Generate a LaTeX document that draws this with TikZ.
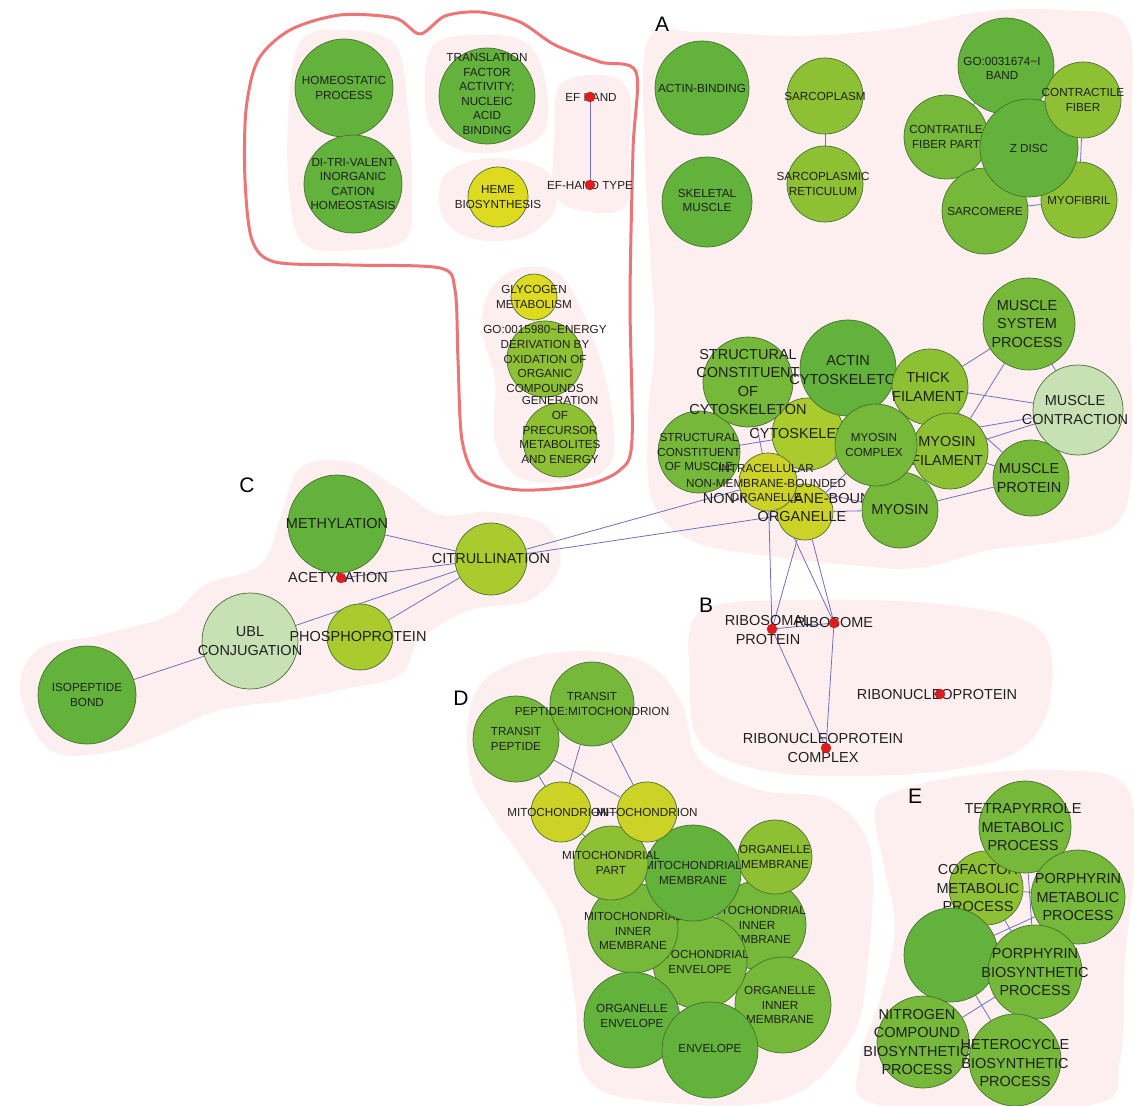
\documentclass[tikz,border=0pt]{standalone}
\usepackage{fontspec}
\setmainfont{Liberation Sans}
\usetikzlibrary{graphs}
\definecolor{gA}{RGB}{98,178,60}
\definecolor{gB}{RGB}{118,184,58}
\definecolor{gC}{RGB}{142,192,52}
\definecolor{gD}{RGB}{170,203,45}
\definecolor{gE}{RGB}{204,210,38}
\definecolor{gF}{RGB}{222,218,32}
\definecolor{gL}{RGB}{200,225,180}
\definecolor{ring}{RGB}{72,112,48}
\definecolor{ink}{RGB}{32,32,32}
\definecolor{linkblue}{RGB}{112,112,192}
\definecolor{dotred}{RGB}{222,30,30}
\definecolor{haze}{RGB}{253,239,239}
\definecolor{fence}{RGB}{236,118,118}
\pgfdeclarelayer{blobs}
\pgfdeclarelayer{links}
\pgfsetlayers{blobs,links,main}
\tikzset{
    term/.style 2 args ={
        shape=circle,
        draw=ring,
        line width=0.7pt,
        fill=#2,
        inner sep=0pt,
        minimum size=2*#1
    },
    hub/.style ={
        shape=circle,
        fill=dotred,
        draw=dotred!80!black,
        line width=0.3pt,
        inner sep=0pt,
        minimum size=10
    },
    word/.style ={
        font=\fontsize{11.7}{14.6}\selectfont,
        align=center,
        text=ink,
        inner sep=0pt
    },
    bigword/.style ={
        font=\fontsize{14.5}{18.4}\selectfont,
        align=center,
        text=ink,
        inner sep=0pt
    },
    letter/.style ={
        font=\fontsize{21}{21}\selectfont,
        text=black,
        inner sep=0pt
    },
    link/.style ={
        draw=linkblue,
        line width=0.8pt
    }
}

\begin{document}
\begin{tikzpicture}[x=1pt,y=-1pt]
    \useasboundingbox (0,0) rectangle (1134,1105);
    \begin{pgfonlayer}{blobs}
        \fill[white] (0,0) rectangle (1134,1105);
        \fill[haze] plot[smooth cycle, tension=0.6] coordinates {(648,40) (700,32) (800,36) (900,28) (980,12) (1060,10) (1125,25) (1132,120) (1130,300) (1132,450) (1120,520) (1070,540) (990,550) (920,568) (850,565) (760,555) (690,540) (652,500) (648,420) (655,340) (650,250) (645,150)};
        \fill[haze] plot[smooth cycle, tension=0.6] coordinates {(700,612) (800,600) (950,605) (1040,630) (1050,700) (1020,750) (950,770) (850,776) (760,770) (700,742) (690,680)};
        \fill[haze] plot[smooth cycle, tension=0.6] coordinates {(20,690) (40,648) (100,635) (170,615) (205,585) (260,565) (280,520) (300,468) (350,462) (400,490) (440,515) (490,512) (545,525) (560,565) (530,600) (470,610) (420,640) (400,675) (340,690) (290,700) (220,710) (160,735) (110,752) (50,750)};
        \fill[haze] plot[smooth cycle, tension=0.6] coordinates {(468,720) (490,675) (560,652) (640,660) (680,700) (700,760) (760,790) (830,800) (870,850) (868,960) (850,1040) (780,1100) (640,1100) (585,1075) (575,1000) (560,920) (530,870) (495,820) (472,780)};
        \fill[haze] plot[smooth cycle, tension=0.6] coordinates {(875,810) (900,790) (970,775) (1060,770) (1125,785) (1134,860) (1125,960) (1120,1060) (1090,1105) (880,1105) (860,1060) (880,1000) (895,930) (885,870)};
        \fill[haze] plot[smooth cycle, tension=0.6] coordinates {(300,42) (345,30) (395,45) (408,110) (412,190) (405,240) (355,250) (305,245) (290,200) (288,120)};
        \fill[haze] plot[smooth cycle, tension=0.6] coordinates {(430,50) (470,35) (525,42) (545,80) (545,130) (510,150) (460,150) (428,120)};
        \fill[haze] plot[smooth cycle, tension=0.6] coordinates {(445,175) (490,158) (545,170) (555,210) (520,238) (470,238) (442,215)};
        \fill[haze] plot[smooth cycle, tension=0.6] coordinates {(560,85) (600,75) (628,90) (630,150) (626,205) (590,212) (555,195) (555,130)};
        \fill[haze] plot[smooth cycle, tension=0.6] coordinates {(490,290) (520,268) (560,275) (590,330) (610,400) (612,460) (580,480) (520,478) (495,440) (495,380) (482,330)};
        \draw[fence, line width=3pt] plot[smooth cycle, tension=0.5] coordinates {(246,110) (258,60) (290,30) (340,15) (395,18) (420,34) (445,16) (480,12) (520,22) (555,45) (600,62) (636,72) (633,150) (630,300) (632,440) (620,470) (585,485) (520,490) (478,478) (462,440) (458,360) (455,290) (440,268) (350,265) (275,262) (252,240) (245,180)};
    \end{pgfonlayer}

    \node[letter] (labA) at (662,24) {A};
    \node[letter] (labB) at (706,605) {B};
    \node[letter] (labC) at (247,485) {C};
    \node[letter] (labD) at (461,698) {D};
    \node[letter] (labE) at (915,796) {E};

    \node[term={49}{gA}, label={[word]center:{HOMEOSTATIC\\PROCESS}}] (homeo) at (344,88) {};
    \node[term={49}{gA}, label={[word]center:{DI-TRI-VALENT\\INORGANIC\\CATION\\HOMEOSTASIS}}] (ditri) at (353,184) {};
    \node[term={48}{gA}, label={[word,yshift=2]center:{TRANSLATION\\FACTOR\\ACTIVITY;\\NUCLEIC\\ACID\\BINDING}}] (transl) at (487,96) {};
    \node[term={30}{gF}, label={[word]center:{HEME\\BIOSYNTHESIS}}] (heme) at (498,197) {};
    \node[word] (efhandtxt) at (591,97) {EF HAND};
    \node[hub] (efhand) at (590,97) {};
    \node[word] (eftypetxt) at (590,185) {EF-HAND TYPE};
    \node[hub] (eftype) at (590,185) {};
    \node[term={23}{gF}, label={[word]center:{GLYCOGEN\\METABOLISM}}] (glyco) at (534,297) {};
    \node[term={38}{gC}, label={[word]center:{GO:0015980\textasciitilde ENERGY\\DERIVATION BY\\OXIDATION OF\\ORGANIC\\COMPOUNDS}}] (energy) at (545,359) {};
    \node[term={37}{gC}, label={[word,yshift=10]center:{GENERATION\\OF\\PRECURSOR\\METABOLITES\\AND ENERGY}}] (genprec) at (560,440) {};

    \node[term={47}{gA}, label={[word]center:{ACTIN-BINDING}}] (actinb) at (702,88) {};
    \node[term={45}{gA}, label={[word,yshift=1.5]center:{SKELETAL\\MUSCLE}}] (skeletal) at (707,202) {};
    \node[term={38}{gC}, label={[word]center:{SARCOPLASM}}] (sarcopl) at (825,96) {};
    \node[term={38}{gC}, label={[word,xshift=-2]center:{SARCOPLASMIC\\RETICULUM}}] (sarcoret) at (825,184) {};
    \node[term={48}{gA}, label={[word,xshift=-4,yshift=-2.5]center:{GO:0031674\textasciitilde I\\BAND}}] (iband) at (1006,66) {};
    \node[term={42}{gB}, label={[word]center:{CONTRATILE\\FIBER PART}}] (fpart) at (946,137) {};
    \node[term={43}{gB}, label={[word]center:{SARCOMERE}}] (sarcomere) at (985,211) {};
    \node[term={38}{gC}, label={[word]center:{MYOFIBRIL}}] (myofib) at (1079,200) {};
    \node[term={49}{gA}, label={[word]center:{Z DISC}}] (zdisc) at (1029,148) {};
    \node[term={38}{gC}, label={[word]center:{CONTRACTILE\\FIBER}}] (cfiber) at (1083,100) {};

    \node[term={28}{gE}, label={[bigword,xshift=-3,yshift=4.5]center:{NON-MEMBRANE-BOUNDED\\ORGANELLE}}] (nonmem) at (805,512) {};
    \node[term={41}{gB}, label={[word]center:{STRUCTURAL\\CONSTITUENT\\OF MUSCLE}}] (scm) at (699,452) {};
    \node[term={36}{gD}, label={[bigword]center:{CYTOSKELETON}}] (cytosk) at (808,434) {};
    \node[term={29}{gE}, label={[word,xshift=-2,yshift=-1]center:{INTRACELLULAR\\NON-MEMBRANE-BOUNDED\\ORGANELLE}}] (intra) at (768,482) {};
    \node[term={38}{gB}, label={[bigword]center:{MYOSIN}}] (myosin) at (900,510) {};
    \node[term={45}{gB}, label={[bigword]center:{STRUCTURAL\\CONSTITUENT\\OF\\CYTOSKELETON}}] (scc) at (748,382) {};
    \node[term={48}{gA}, label={[bigword,yshift=-2]center:{ACTIN\\CYTOSKELETON}}] (actin) at (848,368) {};
    \node[term={38}{gC}, label={[bigword,xshift=-2]center:{THICK\\FILAMENT}}] (thick) at (930,387) {};
    \node[term={46}{gB}, label={[bigword,xshift=-2]center:{MUSCLE\\SYSTEM\\PROCESS}}] (msp) at (1029,324) {};
    \node[term={38}{gB}, label={[bigword,xshift=-2]center:{MUSCLE\\PROTEIN}}] (mprot) at (1031,478) {};
    \node[term={45}{gL}, label={[bigword,xshift=-3]center:{MUSCLE\\CONTRACTION}}] (mcontr) at (1078,410) {};
    \node[term={38}{gC}, label={[bigword,xshift=-3]center:{MYOSIN\\FILAMENT}}] (mfil) at (950,451) {};
    \node[term={41}{gB}, label={[word,xshift=-2]center:{MYOSIN\\COMPLEX}}] (mcomplex) at (876,445) {};

    \node[term={49}{gA}, label={[bigword]center:{METHYLATION}}] (meth) at (337,524) {};
    \node[term={36}{gD}, label={[bigword]center:{CITRULLINATION}}] (citr) at (491,559) {};
    \node[bigword] (acettxt) at (338,578) {ACETYLATION};
    \node[hub] (acet) at (341,578) {};
    \node[term={48}{gL}, label={[bigword]center:{UBL\\CONJUGATION}}] (ubl) at (250,641) {};
    \node[term={33}{gD}, label={[bigword,xshift=-2]center:{PHOSPHOPROTEIN}}] (phos) at (360,637) {};
    \node[term={49}{gA}, label={[word]center:{ISOPEPTIDE\\BOND}}] (isopep) at (87,695) {};

    \node[bigword] (ribprottxt) at (768,630) {RIBOSOMAL\\PROTEIN};
    \node[hub] (ribprot) at (772,629) {};
    \node[bigword] (ribosometxt) at (834,623) {RIBOSOME};
    \node[hub] (ribosome) at (834,623) {};
    \node[bigword] (ribnuctxt) at (937,694) {RIBONUCLEOPROTEIN};
    \node[hub] (ribnuc) at (940,694) {};
    \node[bigword] (ribcomptxt) at (823,748) {RIBONUCLEOPROTEIN\\COMPLEX};
    \node[hub] (ribcomp) at (826,748) {};

    \node[term={45}{gB}, label={[word,xshift=-4]center:{MITOCHONDRIAL\\INNER\\MEMBRANE}}] (rim) at (761,925) {};
    \node[term={48}{gB}, label={[word,xshift=-3]center:{ORGANELLE\\INNER\\MEMBRANE}}] (oim) at (783,1005) {};
    \node[term={37}{gC}, label={[word]center:{ORGANELLE\\MEMBRANE}}] (omem) at (775,857) {};
    \node[term={47}{gB}, label={[word]center:{MITOCHONDRIAL\\ENVELOPE}}] (menv) at (700,962) {};
    \node[term={45}{gB}, label={[word,yshift=-3]center:{MITOCHONDRIAL\\INNER\\MEMBRANE}}] (lim) at (633,928) {};
    \node[term={48}{gA}, label={[word]center:{MITOCHONDRIAL\\MEMBRANE}}] (mmem) at (693,873) {};
    \node[term={37}{gC}, label={[word]center:{MITOCHONDRIAL\\PART}}] (mpart) at (611,863) {};
    \node[term={48}{gA}, label={[word,yshift=4]center:{ORGANELLE\\ENVELOPE}}] (oenv) at (632,1020) {};
    \node[term={48}{gA}, label={[word,yshift=2]center:{ENVELOPE}}] (env) at (710,1050) {};
    \node[term={43}{gB}, label={[word]center:{TRANSIT\\PEPTIDE}}] (tp) at (516,739) {};
    \node[term={42}{gB}, label={[word]center:{TRANSIT\\PEPTIDE:MITOCHONDRION}}] (tpm) at (592,704) {};
    \node[term={30}{gE}, label={[word,xshift=-3]center:{MITOCHONDRION}}] (mito1) at (561,812) {};
    \node[term={30}{gE}, label={[word]center:{MITOCHONDRION}}] (mito2) at (647,812) {};

    \node[term={37}{gC}, label={[bigword,xshift=-8]center:{COFACTOR\\METABOLIC\\PROCESS}}] (cofactor) at (986,888) {};
    \node[term={46}{gB}, label={[bigword,xshift=-2]center:{TETRAPYRROLE\\METABOLIC\\PROCESS}}] (tetra) at (1025,827) {};
    \node[term={47}{gB}, label={[bigword]center:{PORPHYRIN\\METABOLIC\\PROCESS}}] (pmet) at (1078,897) {};
    \node[term={47}{gA}] (unl) at (951,955) {};
    \node[term={47}{gB}, label={[bigword]center:{PORPHYRIN\\BIOSYNTHETIC\\PROCESS}}] (pbio) at (1035,972) {};
    \node[term={46}{gB}, label={[bigword,xshift=-6]center:{NITROGEN\\COMPOUND\\BIOSYNTHETIC\\PROCESS}}] (nitro) at (923,1042) {};
    \node[term={46}{gB}, label={[bigword,yshift=-3]center:{HETEROCYCLE\\BIOSYNTHETIC\\PROCESS}}] (hetero) at (1015,1060) {};

    \begin{pgfonlayer}{links}
    \graph[edges={link}]{
        (efhand) -- (eftype);
        (sarcopl) -- (sarcoret);
        (iband) -- (zdisc) -- (cfiber) -- (iband) -- (fpart) -- (zdisc);
        (fpart) -- (sarcomere) -- (zdisc) -- (myofib) -- (cfiber);
        (sarcomere) -- (myofib);
        (thick) -- (msp) -- (mcontr) -- (thick);
        (mfil) -- (msp);
        (mfil) -- (mcontr) -- (mcomplex);
        (thick) -- (mprot) -- (mfil);
        (myosin) -- (mprot) -- (mcontr);
        (scm) -- (cytosk) -- (scc) -- (intra);
        (intra) -- (mcomplex) -- (nonmem) -- (myosin) -- (intra);
        (actin) -- (thick) -- (mcomplex) -- (actin);
        (thick) -- (mfil) -- (mcomplex) -- (myosin) -- (mfil);
        (scc) -- (actin) -- (cytosk);
        (citr) -- (intra);
        (citr) -- (nonmem);
        (intra) -- (ribprot) -- (nonmem) -- (ribosome) -- (intra);
        (ribprot) -- (ribosome) -- (ribcomp) -- (ribprot);
        (meth) -- (citr);
        (acet) -- (citr);
        (ubl) -- (citr);
        (phos) -- (citr);
        (isopep) -- (ubl);
        (tp) -- (mito1) -- (tpm) -- (mito2) -- (tp);
        (mito1) -- (mito2) -- (mpart) -- (mito1);
        (mito2) -- (mmem) -- (mpart);
        (mmem) -- (omem);
        (mmem) -- (rim) -- (menv) -- (lim) -- (mmem) -- (menv);
        (menv) -- (oenv) -- (env) -- (menv);
        (env) -- (oim) -- (rim);
        (tetra) -- (cofactor) -- (pmet) -- (tetra) -- (pbio) -- (pmet);
        (cofactor) -- (unl) -- (pmet);
        (cofactor) -- (pbio) -- (unl);
        (unl) -- (nitro) -- (pbio) -- (hetero) -- (unl);
        (nitro) -- (hetero);
    };
    \end{pgfonlayer}
\end{tikzpicture}
\end{document}
